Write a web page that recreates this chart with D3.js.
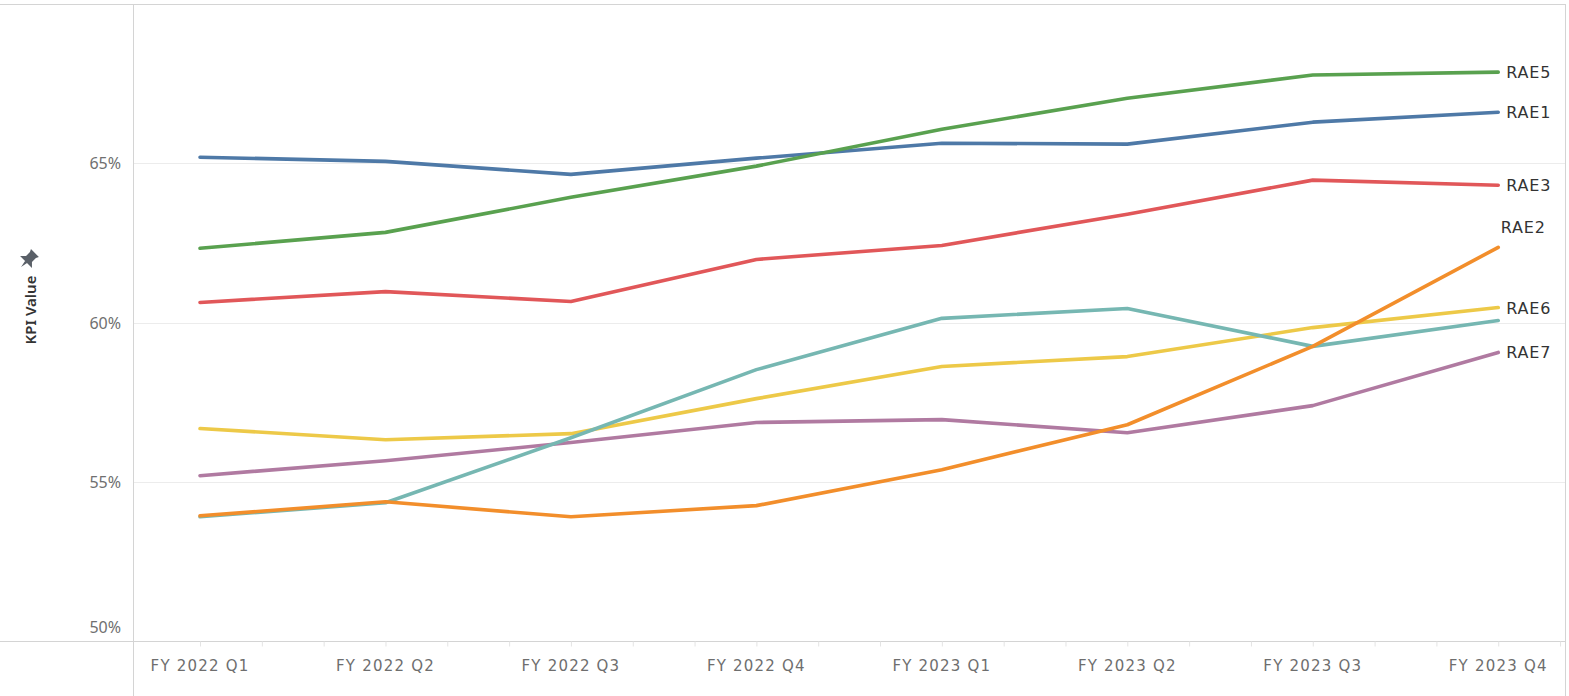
<!DOCTYPE html>
<html>
<head>
<meta charset="utf-8">
<script src="https://cdn.jsdelivr.net/npm/d3@7"></script>
<style>
    body { margin: 0; background: #fff; }
    svg { display: block; font-family: "Noto Sans", "Open Sans", sans-serif; }
    .tick-label { fill: #707070; font-size: 16px; }
    .x-label { fill: #6e6e6e; font-size: 15px; font-family: "DejaVu Sans", sans-serif; letter-spacing: 1.2px; }
    .line-label { fill: #333; font-size: 16px; font-family: "DejaVu Sans", sans-serif; letter-spacing: 0.8px; }
</style>
</head>
<body>
<svg id="chart" width="1569" height="696"></svg>
<script>
// quarters on the x axis
const quarters = ['FY 2022 Q1', 'FY 2022 Q2', 'FY 2022 Q3', 'FY 2022 Q4',
    'FY 2023 Q1', 'FY 2023 Q2', 'FY 2023 Q3', 'FY 2023 Q4'];

// KPI values (%) per series
const rae1 = [65.19, 65.06, 64.65, 65.16, 65.63, 65.60, 66.29, 66.60];
const rae2 = [53.93, 54.37, 53.90, 54.25, 55.38, 56.79, 59.25, 62.36];
const rae3 = [60.63, 60.97, 60.66, 61.98, 62.42, 63.40, 64.47, 64.31];
const rae4 = [53.90, 54.34, 56.38, 58.52, 60.13, 60.44, 59.25, 60.06];
const rae5 = [62.33, 62.83, 63.93, 64.91, 66.07, 67.04, 67.77, 67.86];
const rae6 = [56.67, 56.32, 56.51, 57.61, 58.62, 58.93, 59.84, 60.47];
const rae7 = [55.19, 55.66, 56.23, 56.86, 56.95, 56.54, 57.39, 59.06];

const yTicks = [50, 55, 60, 65];

const series = [
    { name: 'RAE1', values: rae1, color: '#4e79a7', label: true },
    { name: 'RAE2', values: rae2, color: '#f28e2b', label: true, above: true },
    { name: 'RAE3', values: rae3, color: '#e15759', label: true },
    { name: 'RAE4', values: rae4, color: '#76b7b2', label: false },
    { name: 'RAE5', values: rae5, color: '#59a14f', label: true },
    { name: 'RAE6', values: rae6, color: '#edc948', label: true },
    { name: 'RAE7', values: rae7, color: '#b07aa1', label: true }
];

const svg = d3.select('#chart');
const plot = { left: 133, right: 1565, top: 4, bottom: 641 };

// months since FY 2022 Q1 (each quarter = 3 months)
const xScale = d3.scaleLinear()
    .domain([-1.084, 22.08])
    .range([plot.left, plot.right]);

const yScale = d3.scaleLinear()
    .domain([50, 70])
    .range([plot.bottom, plot.top]);

// gridlines
svg.append('g')
    .selectAll('line')
    .data(yTicks.filter(d => d > 50))
    .join('line')
    .attr('x1', plot.left)
    .attr('x2', plot.right)
    .attr('y1', d => Math.round(yScale(d)) + 0.5)
    .attr('y2', d => Math.round(yScale(d)) + 0.5)
    .attr('stroke', '#ececec')
    .attr('stroke-width', 1);

// frame lines
svg.append('line')
    .attr('x1', 0).attr('x2', plot.right)
    .attr('y1', plot.top + 0.5).attr('y2', plot.top + 0.5)
    .attr('stroke', '#d4d4d4');
svg.append('line')
    .attr('x1', 0).attr('x2', plot.right)
    .attr('y1', plot.bottom + 0.5).attr('y2', plot.bottom + 0.5)
    .attr('stroke', '#d4d4d4');
svg.append('line')
    .attr('x1', plot.left + 0.5).attr('x2', plot.left + 0.5)
    .attr('y1', plot.top).attr('y2', 696)
    .attr('stroke', '#d4d4d4');
svg.append('line')
    .attr('x1', plot.right + 0.5).attr('x2', plot.right + 0.5)
    .attr('y1', plot.top).attr('y2', 696)
    .attr('stroke', '#d4d4d4');

// x axis: monthly minor ticks, labels on quarters
const xAxis = svg.append('g')
    .attr('transform', `translate(0, ${plot.bottom + 0.5})`)
    .call(d3.axisBottom(xScale)
        .tickValues(d3.range(0, 23))
        .tickSize(5)
        .tickFormat(''));
xAxis.select('.domain').remove();
xAxis.selectAll('.tick line').attr('stroke', '#e4e4e4');

svg.append('g')
    .selectAll('text')
    .data(quarters)
    .join('text')
    .attr('class', 'x-label')
    .attr('x', (d, i) => xScale(i * 3))
    .attr('y', 671)
    .attr('text-anchor', 'middle')
    .text(d => d);

// y axis labels
svg.append('g')
    .selectAll('text')
    .data(yTicks)
    .join('text')
    .attr('class', 'tick-label')
    .attr('x', 121)
    .attr('y', d => yScale(d) + (d === 50 ? -8 : 6))
    .attr('text-anchor', 'end')
    .text(d => d + '%');

// y axis title with pin
const yTitle = svg.append('g')
    .attr('transform', 'translate(36, 310) rotate(-90)');
yTitle.append('text')
    .attr('text-anchor', 'middle')
    .attr('fill', '#333')
    .attr('font-size', 15)
    .attr('font-weight', 600)
    .text('KPI Value');
svg.append('path')
    .attr('transform', 'translate(28, 260) rotate(45) scale(1.4)')
    .attr('d', 'M-4,-7 L4,-7 L3,-5 L3,-1 L6,2 L-6,2 L-3,-1 L-3,-5 Z M-1,2 L1,2 L0,7 Z')
    .attr('fill', '#5a6068');

// lines
const line = d3.line()
    .x((d, i) => xScale(i * 3))
    .y(d => yScale(d));

const lineOrder = ['RAE6', 'RAE7', 'RAE4', 'RAE3', 'RAE1', 'RAE5', 'RAE2'];
svg.append('g')
    .selectAll('path')
    .data(lineOrder.map(n => series.find(s => s.name === n)))
    .join('path')
    .attr('d', d => line(d.values))
    .attr('fill', 'none')
    .attr('stroke', d => d.color)
    .attr('stroke-width', 3.6)
    .attr('stroke-linejoin', 'round')
    .attr('stroke-linecap', 'round');

// end labels
const last = quarters.length - 1;
svg.append('g')
    .selectAll('text')
    .data(series.filter(s => s.label))
    .join('text')
    .attr('class', 'line-label')
    .attr('x', d => d.above ? xScale(last * 3) + 25 : xScale(last * 3) + 8)
    .attr('y', d => d.above ? yScale(d.values[last]) - 14 : yScale(d.values[last]) + 6)
    .attr('text-anchor', d => d.above ? 'middle' : 'start')
    .text(d => d.name);
</script>
</body>
</html>
